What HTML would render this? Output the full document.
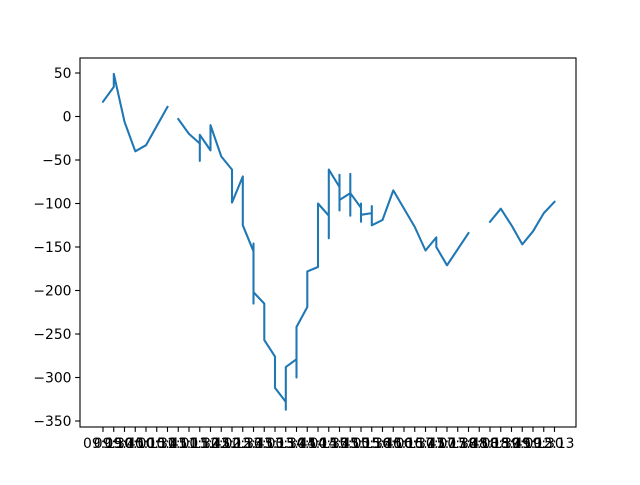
<!DOCTYPE html>
<html><head><meta charset="utf-8"><style>
body{margin:0;background:#fff}
svg text{font-family:"DejaVu Sans","Liberation Sans",sans-serif;font-size:13.9px;fill:#000}
</style></head><body>
<svg id="chart" width="640" height="480" viewBox="0 0 640 480" xmlns="http://www.w3.org/2000/svg">
<rect width="640" height="480" fill="#fff"/>
<g id="plot"></g>
<rect x="80" y="58" width="496" height="369" fill="none" stroke="#000" stroke-width="1.1"/>
</svg>
<script>
const categories = ["09:15","09:30","09:45","10:00","10:15","10:30","10:45","11:00","11:15","11:30","11:45","12:00","12:15","12:30","12:45","13:00","13:15","13:30","13:45","14:00","14:15","14:30","14:45","15:00","15:15","15:30","15:45","16:00","16:15","16:30","16:45","17:00","17:15","17:30","17:45","18:00","18:15","18:30","18:45","19:00","19:15","19:30","12:13"];
const pointCat = [0,1,1,2,3,4,6,6,7,8,9,9,9,10,10,11,12,12,13,13,14,14,14,14,15,15,15,16,16,17,17,17,18,18,18,19,19,20,20,20,21,21,21,22,22,22,22,23,23,23,23,24,24,24,24,25,25,25,26,27,29,30,31,31,32,34,35,36,37,38,39,40,41,42];
const pointVal = [17,34,49,-6,-40,-33,11,NaN,-3,-20,-31,-51,-21,-39,-10,-46,-61,-99,-69,-125,-155,-146,-215,-202,-215,-236,-257,-276,-312,-328,-337,-288,-279,-300,-242,-219,-178,-173,-147,-100,-114,-140,-61,-81,-108,-67,-96,-88,-66,-114,-88,-105,-100,-121,-113,-111,-103,-125,-119,-85,-127,-154,-139,-150,-171,-134,NaN,-121,-106,-125,-147,-132,-111,-98];
const yTicks = [50,0,-50,-100,-150,-200,-250,-300,-350];

const NS = "http://www.w3.org/2000/svg";
const plot = document.getElementById('plot');
function xScale(i){return 103 + i*10.75;}
function yScale(v){return 116.5 - v*0.87;}
function mk(tag, attrs){const e=document.createElementNS(NS,tag);for(const k in attrs)e.setAttribute(k,attrs[k]);plot.appendChild(e);return e;}

yTicks.forEach(t=>{
  const y=yScale(t);
  const tk=mk('line',{x1:75.1,x2:80,y1:y,y2:y,stroke:'#000','stroke-width':1.1});
  
  
  const lb=mk('text',{x:71.5,y:y+5,'text-anchor':'end'});
  lb.textContent=String(t).replace('-','\u2212');
  
  
});
categories.forEach((c,i)=>{
  const x=xScale(i);
  const tk=mk('line',{x1:x,x2:x,y1:427,y2:431.9,stroke:'#000','stroke-width':1.1});
  
  
  const lb=mk('text',{x:x,y:448,'text-anchor':'middle'});
  lb.textContent=c;
  
  
});
let d='', pen=false;
for(let k=0;k<pointCat.length;k++){
  const v=pointVal[k];
  if(isNaN(v)){pen=false;continue;}
  d+=(pen?'L':'M')+xScale(pointCat[k]).toFixed(1)+' '+yScale(v).toFixed(1);
  pen=true;
}
const line=mk('path',{d:d,fill:'none',stroke:'#1f77b4','stroke-width':2.08,'stroke-linejoin':'round','stroke-linecap':'square'});


</script>
</body></html>
